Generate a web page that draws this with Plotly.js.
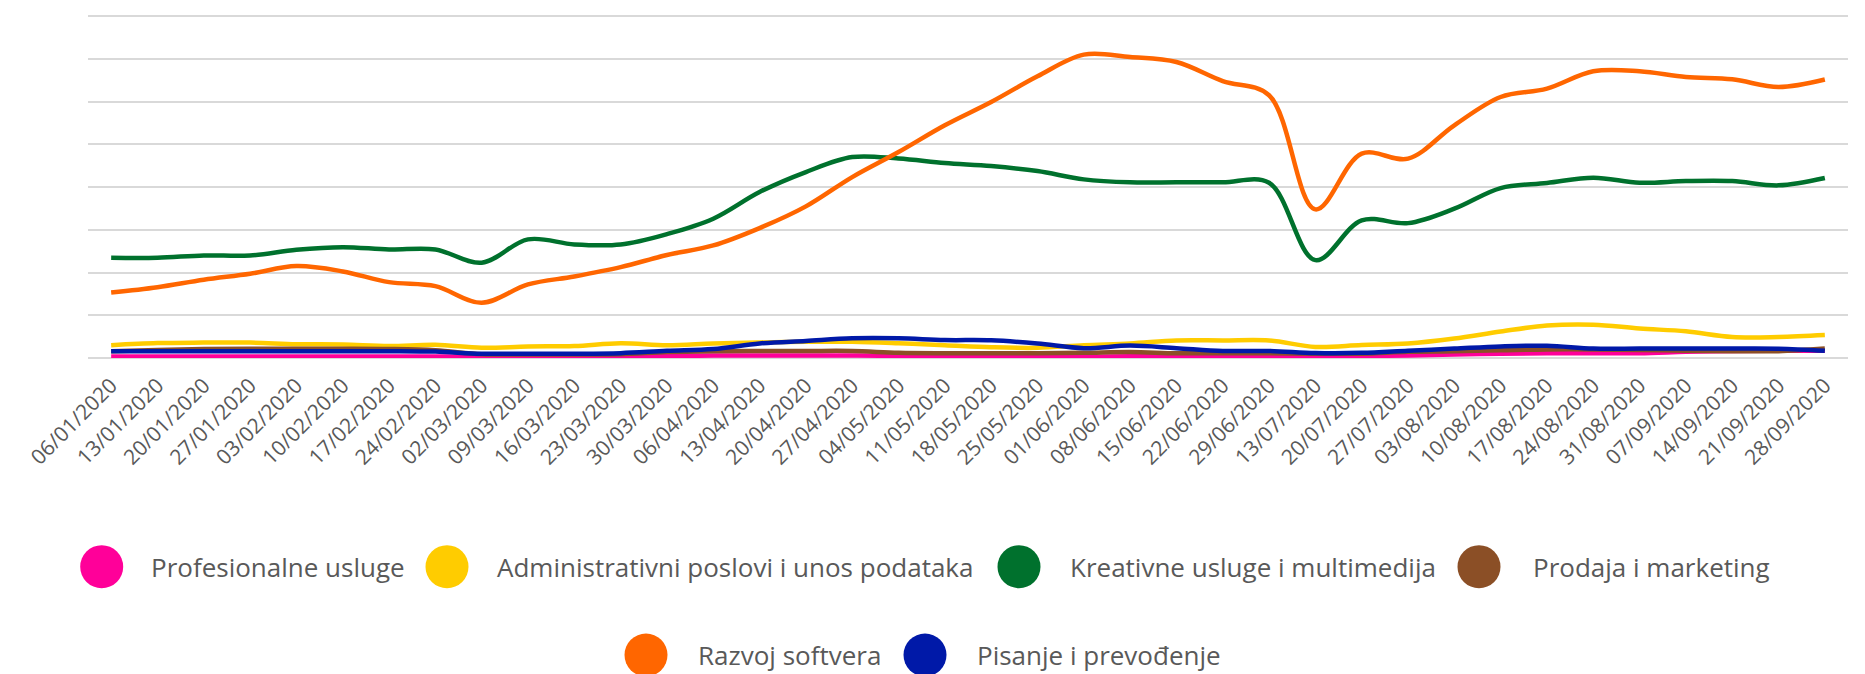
<!DOCTYPE html>
<html>
<head>
<meta charset="utf-8">
<script src="https://cdn.plot.ly/plotly-3.0.1.min.js"></script>
<style>
  html, body { margin: 0; padding: 0; background: #ffffff; }
  #chart { width: 1865px; height: 674px; }
</style>
</head>
<body>
<div id="chart"></div>
<script>
// ---- data ----
var dates = ['06/01/2020','13/01/2020','20/01/2020','27/01/2020','03/02/2020','10/02/2020','17/02/2020','24/02/2020','02/03/2020','09/03/2020','16/03/2020','23/03/2020','30/03/2020','06/04/2020','13/04/2020','20/04/2020','27/04/2020','04/05/2020','11/05/2020','18/05/2020','25/05/2020','01/06/2020','08/06/2020','15/06/2020','22/06/2020','29/06/2020','13/07/2020','20/07/2020','27/07/2020','03/08/2020','10/08/2020','17/08/2020','24/08/2020','31/08/2020','07/09/2020','14/09/2020','21/09/2020','28/09/2020'];

var seriesNames = ['Profesionalne usluge','Administrativni poslovi i unos podataka','Kreativne usluge i multimedija','Prodaja i marketing','Razvoj softvera','Pisanje i prevođenje'];

var profesionalne = [0.18,0.18,0.18,0.18,0.18,0.18,0.18,0.18,0.15,0.15,0.15,0.15,0.22,0.28,0.28,0.28,0.28,0.25,0.15,0.12,0.12,0.12,0.2,0.22,0.22,0.22,0.2,0.22,0.3,0.42,0.5,0.55,0.57,0.57,0.72,0.82,0.85,0.85];

var administrativni = [1.5,1.75,1.8,1.8,1.62,1.58,1.4,1.54,1.19,1.35,1.4,1.73,1.5,1.7,1.82,1.9,1.9,1.73,1.5,1.26,1.19,1.5,1.7,2.05,2.05,2.05,1.3,1.52,1.7,2.28,3.1,3.8,3.9,3.45,3.12,2.46,2.46,2.68];

var kreativne = [11.73,11.73,12.0,12.0,12.67,12.97,12.7,12.7,11.15,13.88,13.29,13.29,14.5,16.3,19.42,21.76,23.51,23.33,22.81,22.46,21.87,20.9,20.55,20.55,20.55,20.5,11.45,16.1,15.78,17.47,19.88,20.47,21.1,20.51,20.7,20.7,20.2,21.06];

var prodaja = [0.8,0.95,1.05,1.08,1.08,1.08,1.05,0.9,0.45,0.42,0.42,0.45,0.7,0.8,0.82,0.82,0.82,0.6,0.55,0.55,0.55,0.6,0.7,0.56,0.56,0.56,0.5,0.5,0.72,0.8,0.9,1.0,1.0,0.95,0.85,0.8,0.8,1.1];

var razvoj = [7.67,8.29,9.16,9.86,10.75,10.13,8.88,8.41,6.46,8.61,9.54,10.63,12.05,13.17,15.2,17.74,21.17,24.1,27.23,29.95,32.96,35.5,35.22,34.64,32.41,30.74,17.39,23.91,23.33,27.23,30.54,31.52,33.55,33.55,32.88,32.61,31.71,32.58];

var pisanje = [0.8,0.8,0.8,0.8,0.8,0.8,0.8,0.75,0.5,0.5,0.5,0.57,0.84,1.05,1.7,2.0,2.3,2.3,2.1,2.07,1.7,1.15,1.45,1.15,0.82,0.82,0.58,0.6,0.85,1.1,1.35,1.43,1.1,1.1,1.1,1.1,1.08,0.84];

var colors = ['#FF0099','#FFCC00','#00712D','#8B4F26','#FF6600','#0019A8'];

var allSeries = [profesionalne, administrativni, kreativne, prodaja, razvoj, pisanje];

// ---- geometry (pixels) ----
var W = 1865, H = 674;
var M = {l: 88, r: 17, t: 14, b: 316};
var plotW = W - M.l - M.r, plotH = H - M.t - M.b;
function px2x(px) { return (px - M.l) / plotW; }
function px2y(py) { return (H - M.b - py) / plotH; }

var traces = allSeries.map(function (vals, i) {
  return {
    type: 'scatter',
    mode: 'lines',
    name: seriesNames[i],
    x: dates,
    y: vals,
    line: {color: colors[i], width: 4.5, shape: 'spline', smoothing: 1},
    showlegend: false,
    hoverinfo: 'x+y+name'
  };
});

// custom legend (large round markers)
var legendPos = [
  {cx: 101.7, tx: 149, cy: 566.7},
  {cx: 447, tx: 495, cy: 566.7},
  {cx: 1019, tx: 1068, cy: 566.7},
  {cx: 1479, tx: 1531, cy: 566.7},
  {cx: 646, tx: 696, cy: 655},
  {cx: 925, tx: 975, cy: 655}
];
var R = 21.5;
var shapes = [], annotations = [];
legendPos.forEach(function (p, i) {
  shapes.push({
    type: 'circle', xref: 'paper', yref: 'paper',
    xsizemode: 'pixel', ysizemode: 'pixel',
    xanchor: px2x(p.cx), yanchor: px2y(p.cy),
    x0: -R, x1: R, y0: -R, y1: R,
    fillcolor: colors[i], line: {width: 0}
  });
  annotations.push({
    xref: 'paper', yref: 'paper',
    x: px2x(p.tx), y: px2y(p.cy),
    xanchor: 'left', yanchor: 'middle',
    text: seriesNames[i], showarrow: false,
    font: {family: 'Open Sans, sans-serif', size: 26, color: '#595959'}
  });
});

var layout = {
  width: W, height: H,
  margin: M,
  paper_bgcolor: '#ffffff', plot_bgcolor: '#ffffff',
  showlegend: false,
  font: {family: 'Open Sans, sans-serif', color: '#595959'},
  xaxis: {
    type: 'category',
    range: [-0.5, dates.length - 0.5],
    showgrid: false, zeroline: false, showline: false,
    ticks: 'outside', ticklen: 6, tickcolor: 'rgba(0,0,0,0)',
    tickangle: -45,
    tickfont: {family: 'Open Sans, sans-serif', size: 21, color: '#595959'},
    fixedrange: true
  },
  yaxis: {
    range: [0, 40.25], dtick: 5, tick0: 0,
    showgrid: true, gridcolor: '#d9d9d9', gridwidth: 2,
    zeroline: true, zerolinecolor: '#d9d9d9', zerolinewidth: 2,
    showticklabels: false, ticks: '', showline: false,
    fixedrange: true
  },
  shapes: shapes,
  annotations: annotations
};

Plotly.newPlot('chart', traces, layout, {displayModeBar: false, staticPlot: true});
</script>
</body>
</html>
